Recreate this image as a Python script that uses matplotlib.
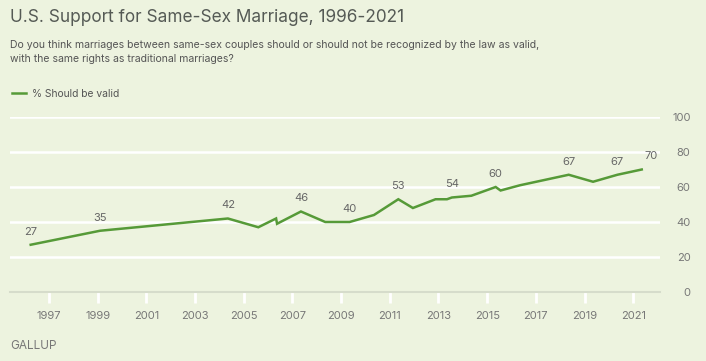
import matplotlib
matplotlib.use("Agg")
import matplotlib.pyplot as plt

# ---- data ----
years = [1996.25, 1999.1, 2004.35, 2005.6, 2006.33, 2006.37, 2007.35, 2008.35, 2009.35,
         2010.35, 2011.35, 2011.95, 2012.88, 2013.35, 2013.55, 2014.35, 2015.35, 2015.55,
         2016.35, 2017.35, 2018.35, 2019.35, 2020.35, 2021.35]
values = [27, 35, 42, 37, 42, 39, 46, 40, 40,
          44, 53, 48, 53, 53, 54, 55, 60, 58,
          61, 64, 67, 63, 67, 70]
labeled = [0, 1, 2, 6, 8, 10, 14, 16, 20, 22, 23]
series_name = "% Should be valid"
x_ticks = list(range(1997, 2022, 2))
y_ticks = [0, 20, 40, 60, 80, 100]
title = "U.S. Support for Same-Sex Marriage, 1996-2021"
subtitle = ("Do you think marriages between same-sex couples should or should not be recognized by the law as valid,\n"
            "with the same rights as traditional marriages?")
source = "GALLUP"

# ---- style ----
W, H = 706, 361
BG = "#edf3df"
GREEN = "#569a38"
plt.rcParams["font.family"] = ["Inter", "DejaVu Sans"]

fig = plt.figure(figsize=(W / 100, H / 100), dpi=100, facecolor=BG)
ax = fig.add_axes([10 / W, (H - 292) / H, 650 / W, 175 / H], facecolor=BG)
ax.set_xlim(1995.4, 2022.1)
ax.set_ylim(0, 100)

for s in ["top", "left", "right"]:
    ax.spines[s].set_visible(False)
ax.spines["bottom"].set_color("#d6dccb")
ax.spines["bottom"].set_linewidth(1.5)
ax.spines["bottom"].set_zorder(1)

ax.set_yticks(y_ticks)
ax.yaxis.tick_right()
ax.tick_params(axis="y", length=0, pad=22, labelsize=8, labelcolor="#777777")
for lab in ax.get_yticklabels():
    lab.set_horizontalalignment("right")
ax.yaxis.grid(True, color="white", linewidth=1.8)
ax.set_axisbelow(True)

ax.set_xticks(x_ticks)
ax.tick_params(axis="x", length=8, width=2, color="white", pad=6, labelsize=8, labelcolor="#777777")

ax.plot(years, values, color=GREEN, linewidth=1.8, solid_joinstyle="miter", label=series_name, zorder=3)

for i in labeled:
    off = (7, 9.5) if i == len(values) - 1 else (0, 9.5)
    ax.annotate(str(values[i]), (years[i], values[i]), xytext=off, textcoords="offset points",
                ha="center", va="center", fontsize=8, color="#666666")

fig.text(10 / W, 1 - 17 / H, title, fontsize=12.4, color="#555a55", va="center", ha="left")
fig.text(10 / W, 1 - 52 / H, subtitle, fontsize=7.55, color="#555555", va="center", ha="left",
         linespacing=1.4)
ax.legend(loc="center left", bbox_to_anchor=(3 / W, 1 - 94 / H), bbox_transform=fig.transFigure,
          frameon=False, fontsize=7.4, handlelength=1.3, handletextpad=0.6, labelcolor="#555555")
fig.text(10 / W, 1 - 346 / H, source, fontsize=8.5, color="#777777", va="center", ha="left")

fig.savefig("out.png", dpi=100, facecolor=BG)
